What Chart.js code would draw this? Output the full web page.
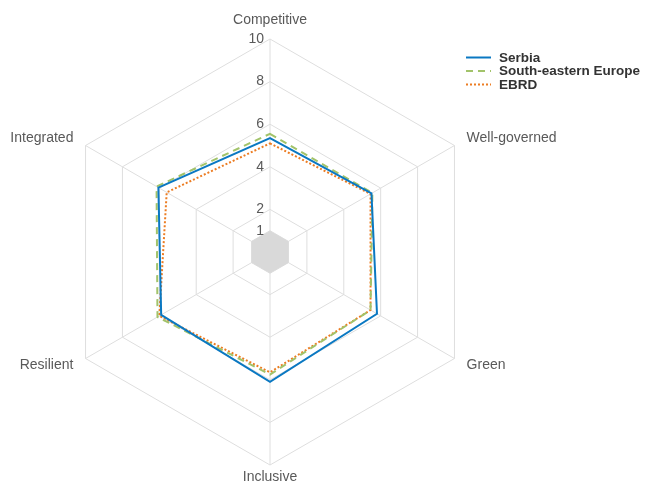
<!DOCTYPE html>
<html>
<head>
<meta charset="utf-8">
<script src="https://cdn.jsdelivr.net/npm/chart.js@4"></script>
<style>
  html, body { margin: 0; padding: 0; background: #fff; }
  #wrap { width: 645px; height: 483px; position: relative; }
</style>
</head>
<body>
<div id="wrap"><canvas id="radar" width="645" height="483"></canvas></div>
<script>
const categories = ['Competitive', 'Well-governed', 'Green', 'Inclusive', 'Resilient', 'Integrated'];
const serbia = [5.35, 5.5, 5.8, 6.1, 5.9, 6.05];
const southEastEurope = [5.55, 5.55, 5.45, 5.75, 6.1, 6.15];
const ebrd = [5.1, 5.45, 5.45, 5.65, 6.0, 5.6];
const baseline = [1, 1, 1, 1, 1, 1];
const tickValues = [0, 1, 2, 4, 6, 8, 10];

const FONT = '"Liberation Sans", Arial, sans-serif';

// labels, ticks and legend drawn by hand so the chart area stays fixed
const labelPlugin = {
    id: 'labelPlugin',
    afterDraw(chart) {
        const ctx = chart.ctx;
        const scale = chart.scales.r;
        ctx.save();

        // tick labels on the vertical axis
        ctx.font = '14px ' + FONT;
        ctx.fillStyle = '#595959';
        ctx.textAlign = 'right';
        ctx.textBaseline = 'middle';
        tickValues.forEach(v => {
            if (v === 0) return;
            const d = scale.getDistanceFromCenterForValue(v);
            ctx.fillText(String(v), scale.xCenter - 6, scale.yCenter - d);
        });

        // category labels
        categories.forEach((label, i) => {
            let extra = 14;
            if (i === 0) extra = 19;
            if (i === 3) extra = 12;
            const p = scale.getPointPosition(i, scale.drawingArea + extra);
            if (Math.abs(p.x - scale.xCenter) < 1) ctx.textAlign = 'center';
            else ctx.textAlign = p.x > scale.xCenter ? 'left' : 'right';
            ctx.fillText(label, p.x, p.y);
        });

        // legend
        const items = chart.data.datasets.filter(ds => ds.label);
        ctx.font = 'bold 13.5px ' + FONT;
        ctx.textAlign = 'left';
        items.forEach((ds, i) => {
            const y = 57.5 + i * 13.5;
            ctx.strokeStyle = ds.borderColor;
            ctx.lineWidth = ds.borderWidth;
            ctx.setLineDash(ds.borderDash || []);
            ctx.beginPath();
            ctx.moveTo(466, y);
            ctx.lineTo(491, y);
            ctx.stroke();
            ctx.setLineDash([]);
            ctx.fillStyle = '#333333';
            ctx.fillText(ds.label, 499, y + 0.5);
        });
        ctx.restore();
    }
};

new Chart(document.getElementById('radar'), {
    type: 'radar',
    data: {
        labels: categories,
        datasets: [
            {
                label: 'Serbia',
                data: serbia,
                borderColor: '#0a78c2',
                borderWidth: 2,
                fill: false,
                pointRadius: 0
            },
            {
                label: 'South-eastern Europe',
                data: southEastEurope,
                borderColor: '#a2c36a',
                borderWidth: 2,
                borderDash: [7, 5],
                fill: false,
                pointRadius: 0
            },
            {
                label: 'EBRD',
                data: ebrd,
                borderColor: '#ec7c22',
                borderWidth: 2,
                borderDash: [2, 2],
                fill: false,
                pointRadius: 0
            },
            {
                label: '',
                data: baseline,
                borderWidth: 0,
                borderColor: 'rgba(0,0,0,0)',
                backgroundColor: '#d9d9d9',
                fill: true,
                pointRadius: 0
            }
        ]
    },
    options: {
        responsive: false,
        animation: false,
        layout: { padding: { left: 57, right: 162, top: 39, bottom: 18 } },
        elements: { line: { tension: 0 } },
        plugins: {
            legend: { display: false },
            tooltip: { enabled: false }
        },
        scales: {
            r: {
                min: 0,
                max: 10,
                afterBuildTicks: axis => {
                    axis.ticks = tickValues.map(v => ({ value: v }));
                },
                ticks: { display: false },
                pointLabels: { display: false },
                grid: { color: '#dedede', lineWidth: 1 },
                angleLines: { color: '#dedede', lineWidth: 1 }
            }
        }
    },
    plugins: [labelPlugin]
});
</script>
</body>
</html>
